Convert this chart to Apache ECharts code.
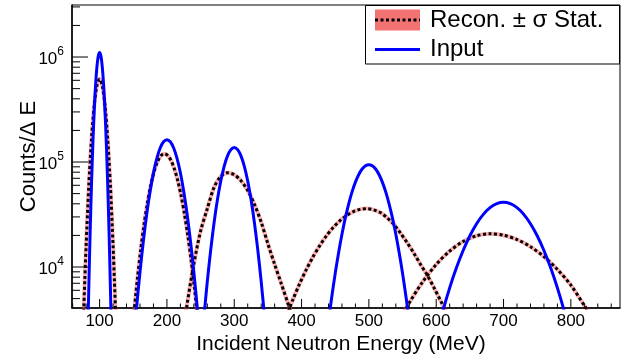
<!DOCTYPE html>
<html><head><meta charset="utf-8">
<script src="https://cdn.jsdelivr.net/npm/echarts@6/dist/echarts.min.js"></script>
<style>html,body{margin:0;padding:0;background:#fff}#c{width:628px;height:360px}</style>
</head><body><div id="c"></div>
<script>
// ---- axis ranges and tick labels ----
const xRange = [59, 873];
const yRange = [4070, 3.13e6];
const xTickLabels = [100, 200, 300, 400, 500, 600, 700, 800];
const yTickLabels = [1e4, 1e5, 1e6];

// ---- Input spectrum (blue) ----
const input100X = [80,82,84,86,88,90,92,94,96,98,100,102,104,106,108,110,112,114,116,118,120];
const input100Y = [370,1690,6600,21900,62000,149500,307000,538000,802000,1020000,1105000,1020000,802000,538000,307000,149500,62000,21900,6600,1690,370];
const input200X = [150,155,160,165,170,175,180,185,190,195,200,205,210,215,220,225,230,235,240,245,250];
const input200Y = [1745,4130,8940,17650,31800,52400,78900,108400,135900,155800,163000,155800,135900,108400,78900,52400,31800,17650,8940,4130,1745];
const input300X = [250,255,260,265,270,275,280,285,290,295,300,305,310,315,320,325,330,335,340,345,350];
const input300Y = [1394,3337,7285,14490,26330,43630,65960,90960,114400,131300,137500,131300,114400,90960,65960,43630,26330,14490,7285,3337,1394];
const input500X = [430,435,440,445,450,455,460,465,470,475,480,485,490,495,500,505,510,515,520,525,530,535,540,545,550,555,560,565,570];
const input500Y = [882,1680,3050,5270,8700,13680,20510,29330,39990,51960,64400,76090,85730,92080,94300,92080,85730,76090,64400,51960,39990,29330,20510,13680,8700,5270,3050,1680,882];
const input700X = [600,610,620,630,640,650,660,670,680,690,700,710,720,730,740,750,760,770,780,790,800];
const input700Y = [2200,3840,6330,9820,14370,19840,25840,31720,36730,40110,41300,40110,36730,31720,25840,19840,14370,9820,6330,3840,2200];

// ---- Reconstructed spectrum (black dotted, red stat. band) ----
const recon100X = [72,74,76,78,80,84,88,92,96,100,104,108,112,116,120,122,124,126,128];
const recon100Y = [482,1290,3213,7450,16040,59730,166200,345000,534800,619000,534800,345000,166200,59730,16040,7450,3213,1290,482];
const recon200X = [146,151,156,161,166,171,176,181,186,191,196,201,206,211,216,221,226,231,236,241,246,251];
const recon200Y = [1590,3615,7540,14420,25280,40700,60060,81310,100900,114900,120000,115700,103700,86390,66900,48160,32220,20040,11590,6230,3113,1445];
const recon300X = [220,230,240,250,260,270,280,290,300,310,320,330,340,350,360,370,380,390];
const recon300Y = [1566,4435,10690,21960,36000,57360,72930,79000,75660,66450,53530,39540,26800,16650,10600,6900,4450,2750];
const recon500X = [377,387,397,407,417,427,437,447,457,467,477,487,497,507,517,527,537,547,557,567,577,587,597,607,617];
const recon500Y = [3330,4870,6900,9440,12500,16000,19850,23800,27600,31000,33700,35400,36000,35000,33000,29500,25500,21000,17000,13500,10500,8300,6300,4700,3500];
const recon700X = [540,560,580,600,620,640,660,680,700,720,740,760,780,800,820,840];
const recon700Y = [2640,4560,7240,10570,14180,17500,19850,20700,20060,18270,15620,12560,9480,6720,4300,2800];

const inputSegs = [[input100X,input100Y],[input200X,input200Y],[input300X,input300Y],[input500X,input500Y],[input700X,input700Y]];
const reconSegs = [[recon100X,recon100Y],[recon200X,recon200Y],[recon300X,recon300Y],[recon500X,recon500Y],[recon700X,recon700Y]];

const FONT = 'Liberation Sans, Arial, Helvetica, sans-serif';
const pairs = (xs, ys) => xs.map((x, i) => [x, ys[i]]);

const series = [];
reconSegs.forEach(([xs, ys]) => series.push({
  type: 'line', name: 'band', data: pairs(xs, ys), smooth: 0.3, symbol: 'none', silent: true,
  lineStyle: { color: 'rgba(255,80,80,0.45)', width: 4 }, z: 2
}));
reconSegs.forEach(([xs, ys]) => series.push({
  type: 'line', name: 'Recon', data: pairs(xs, ys), smooth: 0.3, symbol: 'none', silent: true,
  lineStyle: { color: '#000', width: 3, type: [3, 2.5] }, z: 3
}));
inputSegs.forEach(([xs, ys]) => series.push({
  type: 'line', name: 'Input', data: pairs(xs, ys), smooth: 0.3, symbol: 'none', silent: true,
  lineStyle: { color: '#0000ff', width: 3 }, z: 4
}));

// tick marks (ROOT style, inward)
const xTicks = [];
for (let v = 60; v <= 860; v += 20) xTicks.push([v, yRange[0], v % 100 === 0 ? 9 : 4.5]);
const yTicks = [];
for (let e = 3; e <= 6; e++) for (let m = 1; m <= 9; m++) {
  const v = m * Math.pow(10, e);
  if (v >= yRange[0] && v <= yRange[1]) yTicks.push([xRange[0], v, m === 1 ? 16 : 8]);
}
function tickSeries(data, isX) {
  return {
    type: 'custom', silent: true, clip: false, z: 10, data: data,
    renderItem: (p, api) => {
      const pt = api.coord([api.value(0), api.value(1)]);
      const len = api.value(2);
      return { type: 'line', shape: { x1: pt[0], y1: pt[1], x2: isX ? pt[0] : pt[0] + len, y2: isX ? pt[1] - len : pt[1] },
        style: { stroke: '#000', lineWidth: 1 } };
    }
  };
}
series.push(tickSeries(xTicks, true));
series.push(tickSeries(yTicks, false));

const chart = echarts.init(document.getElementById('c'), null, { renderer: 'canvas' });
chart.setOption({
  animation: false,
  backgroundColor: '#fff',
  grid: { left: 72, right: 8, top: 5, bottom: 50.5, show: true, borderColor: '#000', borderWidth: 1, containLabel: false },
  xAxis: {
    type: 'value', min: xRange[0], max: xRange[1], minInterval: 100, maxInterval: 100,
    axisLine: { show: true, lineStyle: { color: '#000', width: 1.5 } },
    axisTick: { show: false }, splitLine: { show: false },
    axisLabel: { color: '#000', fontFamily: FONT, fontSize: 17, margin: 5,
      formatter: v => xTickLabels.includes(Math.round(v)) && Math.abs(v - Math.round(v)) < 1e-6 ? String(Math.round(v)) : '' },
    name: 'Incident Neutron Energy (MeV)', nameLocation: 'middle', nameGap: 26, nameMoveOverlap: false,
    nameTextStyle: { color: '#000', fontFamily: FONT, fontSize: 21, padding: [0, 10, 0, 0] }
  },
  yAxis: {
    type: 'log', logBase: 10, min: yRange[0], max: yRange[1],
    axisLine: { show: true, lineStyle: { color: '#000', width: 1.5 } },
    axisTick: { show: false }, splitLine: { show: false }, minorTick: { show: false },
    axisLabel: { color: '#000', fontFamily: FONT, margin: 8,
      formatter: v => {
        const hit = yTickLabels.find(t => Math.abs(t - v) / t < 1e-6);
        if (!hit) return '';
        return '{b|10}{s|' + Math.round(Math.log10(hit)) + '}';
      },
      rich: {
        b: { fontSize: 17, fontFamily: FONT, color: '#000', verticalAlign: 'bottom', lineHeight: 22 },
        s: { fontSize: 12, fontFamily: FONT, color: '#000', verticalAlign: 'top', lineHeight: 22 }
      }
    },
    name: 'Counts/\u0394 E', nameLocation: 'middle', nameGap: 32, nameRotate: 90, nameMoveOverlap: false,
    nameTextStyle: { color: '#000', fontFamily: FONT, fontSize: 22 }
  },
  series: series,
  graphic: [
    { type: 'rect', shape: { x: 365.5, y: 5.5, width: 254, height: 58.5 }, style: { fill: '#fff', stroke: '#000', lineWidth: 1 }, z: 20 },
    { type: 'rect', shape: { x: 375, y: 9.5, width: 45, height: 21 }, style: { fill: '#f37272' }, z: 21 },
    { type: 'line', shape: { x1: 375, y1: 20, x2: 420, y2: 20 }, style: { stroke: '#000', lineWidth: 3, lineDash: [3, 2.5] }, z: 22 },
    { type: 'line', shape: { x1: 375, y1: 49.5, x2: 420, y2: 49.5 }, style: { stroke: '#0000ff', lineWidth: 3 }, z: 22 },
    { type: 'text', x: 430, y: 20, style: { text: 'Recon. \u00b1 \u03c3 Stat.', font: '24px ' + FONT, fill: '#000', textVerticalAlign: 'middle', verticalAlign: 'middle' }, z: 22 },
    { type: 'text', x: 430, y: 49.5, style: { text: 'Input', font: '24px ' + FONT, fill: '#000', textVerticalAlign: 'middle', verticalAlign: 'middle' }, z: 22 }
  ]
});
</script></body></html>
